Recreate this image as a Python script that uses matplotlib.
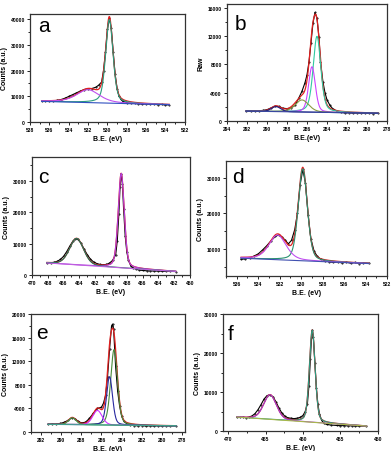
import numpy as np
import matplotlib
matplotlib.use('Agg')
import matplotlib.pyplot as plt
from matplotlib.ticker import MultipleLocator, AutoMinorLocator

plt.rcParams['font.family'] = ['Liberation Sans', 'DejaVu Sans']

# ---- panel a: O 1s ----
a_x = [536.8, 536.4, 536.0, 535.6, 535.2, 534.8, 534.4, 534.0, 533.6, 533.2, 532.8, 532.4,
       532.0, 531.6, 531.2, 530.9, 530.6, 530.4, 530.2, 530.0, 529.8, 529.6, 529.4, 529.2,
       529.0, 528.8, 528.6, 528.4, 528.0, 527.6, 527.2, 526.8, 526.4, 526.0, 525.6, 525.2,
       524.8, 524.4, 524.0, 523.6]
a_y = [8000, 8100, 8300, 8200, 8400, 8700, 9200, 9900, 10600, 11300, 12000, 12600,
       12900, 13000, 13500, 14300, 15500, 20000, 27000, 36000, 40300, 36500, 27000, 18500,
       13000, 10000, 8800, 8000, 7500, 7300, 7200, 7100, 6900, 7000, 6800, 6900,
       6700, 6800, 6600, 6700]
a_bg = [8000, 6700]
a_peaks = [(529.8, 32500, 0.9, 0.4), (532.0, 5000, 2.8, 0.5)]
a_cols = ['#2a9c7c', '#c050f0']

# ---- panel b: C 1s ----
b_x = [292.1, 291.6, 291.2, 290.8, 290.4, 290.0, 289.6, 289.2, 288.8, 288.4, 288.0, 287.6,
       287.2, 286.8, 286.5, 286.2, 286.0, 285.8, 285.6, 285.4, 285.2, 285.0, 284.8, 284.65,
       284.4, 284.2, 284.0, 283.7, 283.4, 283.0, 282.6, 282.2, 281.8, 281.4, 281.0, 280.6,
       280.2, 279.8, 279.4, 278.9]
b_y = [1400, 1450, 1400, 1450, 1500, 1600, 1850, 2100, 2050, 1800, 1750, 1850,
       2200, 3300, 4200, 5400, 6500, 8300, 11000, 13800, 15300, 14500, 11800, 8300,
       5500, 4000, 3000, 2200, 1700, 1400, 1250, 1150, 1200, 1100, 1150, 1100,
       1150, 1100, 1050, 1100]
b_bg = [1400, 1100]
b_peaks = [(285.0, 10700, 0.9, 0.4), (285.5, 6400, 0.8, 0.3),
           (286.5, 1700, 1.6, 0.3), (289.1, 700, 1.1, 0.2)]
b_cols = ['#30c8a0', '#cc44ff', '#8a9a40', '#202080']

# ---- panel c: Ti 2p ----
c_x = [468.1, 467.6, 467.2, 466.8, 466.4, 466.0, 465.6, 465.2, 464.8, 464.5, 464.2, 463.8,
       463.4, 463.0, 462.6, 462.2, 461.8, 461.4, 461.0, 460.6, 460.2, 459.8, 459.4, 459.2,
       459.0, 458.85, 458.7, 458.55, 458.4, 458.2, 458.0, 457.8, 457.5, 457.2, 456.8, 456.4,
       456.0, 455.5, 455.0, 454.5, 454.0, 453.5, 453.0, 452.5, 451.8]
c_y = [3900, 3950, 4100, 4400, 5000, 6000, 7500, 9300, 10900, 11600, 11400, 10200,
       8300, 6500, 5100, 4200, 3700, 3400, 3300, 3400, 3800, 4700, 6500, 11000,
       19500, 28000, 32300, 29000, 21000, 12500, 7500, 4800, 3000, 2300, 1900, 1600,
       1500, 1400, 1350, 1300, 1300, 1250, 1200, 1200, 1150]
c_bg = [3900, 1200]
c_peaks = [(458.7, 30000, 0.9, 0.3), (464.35, 8400, 2.1, 0.2)]
c_cols = ['#b040e0', '#207a5a']

# ---- panel d: O 1s ----
d_x = [535.6, 535.2, 534.8, 534.4, 534.0, 533.6, 533.2, 532.8, 532.4, 532.1, 531.8, 531.5,
       531.2, 530.9, 530.6, 530.35, 530.1, 529.85, 529.6, 529.35, 529.1, 528.8, 528.5, 528.2,
       527.8, 527.4, 527.0, 526.6, 526.2, 525.8, 525.4, 525.0, 524.6, 524.2, 523.7]
d_y = [7200, 7300, 7600, 8100, 8700, 9800, 11000, 12400, 13600, 14000, 13400, 12600,
       11500, 12500, 15500, 20000, 28000, 32300, 28500, 19500, 13000, 9500, 8000, 7300,
       6800, 6500, 6300, 6400, 6200, 6400, 6100, 6300, 6000, 6200, 6100]
d_bg = [7500, 6000]
d_peaks = [(529.85, 25700, 1.0, 0.3), (532.2, 6900, 1.9, 0.4)]
d_cols = ['#2a9070', '#c050f0']

# ---- panel e: C 1s ----
e_x = [291.3, 290.9, 290.5, 290.1, 289.7, 289.3, 288.9, 288.6, 288.3, 288.0, 287.6, 287.2,
       286.8, 286.4, 286.0, 285.8, 285.6, 285.4, 285.2, 285.0, 284.9, 284.8, 284.6, 284.4,
       284.2, 284.0, 283.8, 283.5, 283.2, 282.8, 282.4, 282.0, 281.6, 281.2, 280.8, 280.4,
       280.0, 279.6, 279.2, 278.6]
e_y = [1300, 1400, 1350, 1450, 1650, 2000, 2450, 2200, 1800, 1550, 1650, 2300,
       3200, 4000, 4200, 4900, 6200, 9300, 14000, 18000, 18300, 17500, 11200, 7000,
       4400, 2700, 1900, 1400, 1200, 1100, 1050, 1100, 1000, 1050, 1000, 1050,
       1000, 1050, 1000, 1000]
e_bg = [1300, 1050]
e_peaks = [(284.75, 12800, 0.8, 0.3), (285.2, 8200, 0.7, 0.3),
           (286.4, 2450, 1.1, 0.2), (288.9, 1150, 0.9, 0.2)]
e_cols = ['#4a8a3a', '#2828a0', '#cc33ff', '#3a9a4a']

# ---- panel f: Ti 2p ----
f_x = [468.8, 468.4, 468.0, 467.6, 467.2, 466.8, 466.4, 466.0, 465.6, 465.2, 464.8, 464.4,
       464.0, 463.6, 463.2, 462.8, 462.4, 462.0, 461.6, 461.2, 460.8, 460.4, 460.0, 459.7,
       459.4, 459.2, 459.0, 458.85, 458.75, 458.6, 458.4, 458.2, 458.0, 457.8, 457.5, 457.2,
       456.8, 456.2, 455.5, 455.0, 454.5, 454.0, 453.5, 453.0, 452.5, 451.5]
f_y = [3600, 3500, 3550, 3450, 3600, 3900, 4500, 5500, 6800, 8200, 9100, 9300,
       8800, 7500, 5900, 4600, 3800, 3400, 3300, 3200, 3300, 3500, 4000, 5000,
       7000, 11500, 18500, 24000, 25900, 24000, 17500, 11000, 7000, 4500, 2800, 2000,
       1700, 1550, 1450, 1400, 1400, 1350, 1350, 1300, 1300, 1250]
f_bg = [3600, 1300]
f_peaks = [(458.75, 23600, 0.9, 0.3), (464.4, 6300, 2.0, 0.2)]
f_cols = ['#2a9a80', '#a040d0']


def gl(x, c, h, w, m):
    # pseudo-Voigt shaped fit component
    t = (x - c) / w
    return h * ((1 - m) * np.exp(-4 * np.log(2) * t ** 2) + m / (1 + 4 * t ** 2))


def panel(ax, x, y, bg, peaks, cols, bg_col, env_col, letter, lpos,
          xlim, xstep, ylim, ystep, ylabel, xlabel='B.E. (eV)'):
    xf = np.linspace(x[0], x[-1], 600)
    base = bg[0] + (bg[1] - bg[0]) * (xf - x[0]) / (x[-1] - x[0])
    ax.plot(x, y, color='black', lw=0.8, marker='.', ms=0.9, zorder=2)
    env = base.copy()
    for (c, h, w, m), col in zip(peaks, cols):
        comp = gl(xf, c, h, w, m)
        env += comp
        ax.plot(xf, base + comp, color=col, lw=0.8, zorder=4)
    ax.plot(xf, env, color=env_col, lw=0.9, zorder=3)
    ax.plot(xf, base, color=bg_col, lw=0.8, zorder=5)
    ax.set_xlim(*xlim)
    ax.set_ylim(*ylim)
    ax.xaxis.set_major_locator(MultipleLocator(xstep))
    ax.yaxis.set_major_locator(MultipleLocator(ystep))
    ax.xaxis.set_minor_locator(AutoMinorLocator(2))
    ax.yaxis.set_minor_locator(AutoMinorLocator(2))
    ax.tick_params(which='both', direction='out', top=False, right=False,
                   labelsize=3.6, width=0.6, pad=1.5)
    ax.tick_params(which='major', length=2.2)
    ax.tick_params(which='minor', length=1.3)
    for lab in ax.get_xticklabels() + ax.get_yticklabels():
        lab.set_fontweight('bold')
    for s in ax.spines.values():
        s.set_linewidth(0.9)
        s.set_color('#333333')
    ax.set_xlabel(xlabel, fontsize=5, fontweight='bold', labelpad=2)
    ax.set_ylabel(ylabel, fontsize=5, fontweight='bold', labelpad=2)
    ax.text(lpos[0], lpos[1], letter, transform=ax.transAxes, fontsize=15,
            va='baseline', ha='left')


fig = plt.figure(figsize=(3.91, 4.52), dpi=100)

ax_a = fig.add_axes([0.0767, 0.728, 0.396, 0.239])
panel(ax_a, a_x, a_y, a_bg, a_peaks, a_cols, '#3050c0', '#e02020', 'a', (0.05, 0.84),
      (538, 522), 2, (0, 42000), 10000, 'Counts (a.u.)')

ax_b = fig.add_axes([0.5806, 0.730, 0.409, 0.259])
panel(ax_b, b_x, b_y, b_bg, b_peaks, b_cols, '#3848a0', '#e02020', 'b', (0.05, 0.786),
      (294, 278), 2, (0, 16500), 4000, 'Raw', xlabel='B.E.(eV)')

ax_c = fig.add_axes([0.0818, 0.389, 0.404, 0.261])
panel(ax_c, c_x, c_y, c_bg, c_peaks, c_cols, '#c060e0', '#e02020', 'c', (0.04, 0.79),
      (470, 450), 2, (0, 37500), 10000, 'Counts (a.u.)')

ax_d = fig.add_axes([0.578, 0.387, 0.412, 0.254])
panel(ax_d, d_x, d_y, d_bg, d_peaks, d_cols, '#4050b0', '#e02020', 'd', (0.04, 0.82),
      (537, 522), 2, (2500, 34600), 10000, 'Counts (a.u.)')

ax_e = fig.add_axes([0.0793, 0.042, 0.394, 0.261])
panel(ax_e, e_x, e_y, e_bg, e_peaks, e_cols, '#40a090', '#e02020', 'e', (0.03, 0.80),
      (293, 277.7), 2, (0, 20000), 4000, 'Counts (a.u.)')

ax_f = fig.add_axes([0.570, 0.044, 0.396, 0.259])
panel(ax_f, f_x, f_y, f_bg, f_peaks, f_cols, '#a8b84a', '#e02020', 'f', (0.03, 0.79),
      (470.7, 450), 5, (0, 30000), 10000, 'Counts (a.u.)')

fig.savefig('out.png', dpi=100)
